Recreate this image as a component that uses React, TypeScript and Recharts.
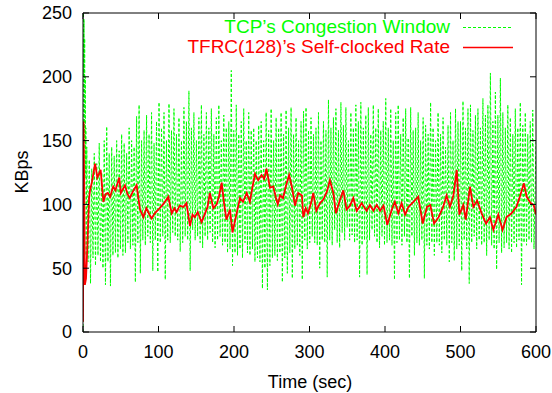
import { LineChart, Line, XAxis, YAxis, Label } from "recharts"

const FONT = "'Liberation Sans', Arial, Helvetica, sans-serif"
const GREEN = "#00ff00"
const RED = "#ff0000"

const xTicks = [0, 100, 200, 300, 400, 500, 600]
const yTicks = [0, 50, 100, 150, 200, 250]

// TCP slow start burst: [time, KBps]
const tcpStart = [
  [0, 0], [0.5, 250], [1, 200], [1.4, 245], [1.8, 150], [2.2, 230],
  [2.6, 120], [3, 200], [3.4, 125], [3.8, 160], [4.2, 60],
]

// sawtooth after start: one peak and one trough per 3.3 s, first peak at t=5
const tcpFirstPeak = 5
const tcpCycle = 3.3
const tcpPeaks = [
  145, 135, 128, 140, 132, 148, 125, 150, 161, 140,
  145, 138, 150, 142, 155, 148, 140, 160, 150, 145,
  169, 178, 150, 158, 170, 155, 172, 148, 165, 180,
  160, 172, 150, 179, 158, 175, 155, 168, 150, 176,
  165, 189, 160, 172, 150, 168, 178, 155, 172, 160,
  175, 155, 168, 178, 150, 170, 160, 165, 205, 158,
  178, 155, 165, 175, 150, 172, 158, 160, 150, 162,
  165, 150, 172, 158, 175, 150, 168, 160, 172, 155,
  174, 160, 176, 155, 168, 150, 165, 173, 176, 158,
  168, 155, 160, 172, 150, 165, 158, 182, 160, 168,
  175, 158, 180, 162, 176, 150, 172, 160, 178, 165,
  180, 160, 170, 176, 155, 178, 160, 175, 158, 165,
  183, 160, 175, 150, 172, 178, 155, 168, 175, 152,
  176, 158, 160, 172, 150, 168, 162, 155, 180, 160,
  150, 172, 155, 168, 145, 162, 172, 150, 175, 165,
  165, 181, 160, 175, 178, 158, 170, 175, 160, 183,
  170, 178, 203, 165, 188, 170, 199, 172, 160, 178,
  168, 155, 175, 160, 180, 162, 172, 155, 165, 174,
]
const tcpTroughs = [
  55, 38, 58, 52, 60, 55, 50, 37, 55, 36,
  60, 62, 58, 65, 60, 62, 70, 65, 68, 39,
  70, 46, 72, 68, 75, 70, 48, 72, 47, 70,
  75, 41, 72, 70, 78, 75, 72, 63, 70, 75,
  72, 48, 80, 72, 75, 70, 66, 75, 72, 78,
  70, 66, 72, 75, 68, 70, 62, 65, 52, 62,
  60, 65, 58, 70, 62, 60, 65, 55, 58, 55,
  34, 50, 33, 52, 58, 60, 56, 62, 39, 58,
  46, 62, 42, 65, 68, 60, 41, 72, 65, 70,
  75, 70, 68, 50, 72, 70, 43, 72, 68, 80,
  70, 66, 78, 72, 82, 72, 76, 70, 72, 43,
  68, 72, 45, 72, 80, 75, 70, 66, 75, 68,
  70, 72, 68, 41, 70, 72, 68, 75, 70, 42,
  75, 60, 70, 68, 72, 42, 68, 65, 70, 60,
  70, 68, 62, 72, 68, 55, 70, 56, 65, 68,
  48, 72, 65, 38, 70, 75, 65, 72, 68, 70,
  60, 72, 68, 65, 49, 70, 62, 66, 70, 65,
  62, 70, 66, 72, 37, 70, 68, 72, 70, 65,
]
const tcpEnd = [600, 150]

// TFRC self-clocked rate: [time, KBps]
const tfrc = [
  [0, 8], [0.7, 165], [1.5, 120], [2.5, 37], [4, 42], [6, 70], [8, 105], [9.3, 111],
  [12, 118], [16, 132], [19, 121], [23.4, 127], [27, 102], [30, 108], [33, 109], [36, 106],
  [40, 114], [43, 111], [48, 121], [50, 109], [55.6, 115], [59, 108], [62, 105], [66, 110],
  [71, 115], [75.5, 96], [80, 90], [84, 97], [88, 92], [91, 89], [95, 93], [100, 96],
  [106, 100], [113, 106], [117.5, 93], [121, 97], [124, 94], [128, 99], [133, 98], [137, 101],
  [141.7, 83], [145, 92], [148, 90], [152, 94], [157, 86], [161, 92], [165, 98], [168, 109],
  [172.6, 97], [177, 100], [180, 106], [183.7, 117], [187, 100], [190, 88], [194.7, 96], [198, 78],
  [203.5, 93], [208, 105], [212, 102], [216.8, 109], [221, 102], [224, 112], [227.8, 124], [232, 119],
  [236.6, 123], [240, 120], [243, 128], [247.7, 113], [252, 114], [255.6, 105], [258, 100], [261, 107],
  [265, 105], [269, 115], [273, 123], [276.6, 114], [280.8, 99], [285, 109], [290, 107], [291.7, 90],
  [295, 97], [298, 93], [302, 101], [305, 109], [309, 95], [314, 101], [318.6, 104], [323, 110],
  [327, 119], [331.6, 109], [335, 93], [340.6, 104], [344.8, 111], [349, 96], [353.6, 99], [358, 105],
  [362.5, 95], [366, 98], [369, 101], [375.6, 95], [380, 99.5], [384.6, 95], [389, 99.5], [393.6, 95],
  [398, 99], [403, 84], [409, 96], [413, 102], [417.6, 93], [422, 101], [426.7, 92], [431, 98],
  [437.6, 102], [444, 106], [450, 85], [455.6, 98], [460, 99.5], [465, 85], [471, 90], [477, 98],
  [481.6, 107], [486, 98], [490.6, 107], [495, 127], [498.5, 92], [503.7, 99.5], [507, 88], [512.6, 114],
  [517, 98], [522, 103], [528, 93], [533.8, 85], [539, 90], [543.5, 80], [550, 92], [555.7, 80],
  [561, 90], [567.6, 93], [574, 98], [578.6, 106], [584, 116.5], [587.6, 106], [593, 101], [597, 99.5],
  [600, 92],
]

const tcpData: { t: number; v: number }[] = tcpStart.map(([t, v]) => ({ t, v }))
tcpPeaks.forEach((p, i) => {
  const t0 = tcpFirstPeak + i * tcpCycle
  tcpData.push({ t: t0, v: p })
  tcpData.push({ t: t0 + tcpCycle / 2, v: tcpTroughs[i] })
})
tcpData.push({ t: tcpEnd[0], v: tcpEnd[1] })

const tfrcData = tfrc.map(([t, v]) => ({ t, v }))

const tickStyle = { fill: "#000", fontSize: 18, fontFamily: FONT }
const noLabel = () => <g />

export default function App() {
  return (
    <div style={{ position: "absolute", left: 0, top: 0, width: 552, height: 393, background: "#fff" }}>
      <LineChart width={552} height={393} margin={{ top: 0, right: 0, left: 0, bottom: 0 }}>
        <XAxis
          xAxisId="b"
          dataKey="t"
          type="number"
          domain={[0, 600]}
          ticks={xTicks}
          allowDataOverflow
          height={61}
          tickSize={-6}
          tickMargin={19}
          tick={tickStyle}
          stroke="#000"
        >
          <Label
            content={() => (
              <text x={310} y={388} textAnchor="middle" fontSize={18} fontFamily={FONT} fill="#000">
                Time (sec)
              </text>
            )}
          />
        </XAxis>
        <XAxis
          xAxisId="t"
          orientation="top"
          dataKey="t"
          type="number"
          domain={[0, 600]}
          ticks={xTicks}
          allowDataOverflow
          height={13}
          tickSize={-6}
          tick={noLabel}
          stroke="#000"
        />
        <YAxis
          yAxisId="l"
          type="number"
          domain={[0, 250]}
          ticks={yTicks}
          allowDataOverflow
          width={83}
          tickSize={-6}
          tickMargin={17}
          tick={tickStyle}
          stroke="#000"
        >
          <Label
            content={() => (
              <text
                x={0}
                y={0}
                transform="translate(28 172) rotate(-90)"
                textAnchor="middle"
                fontSize={18}
                fontFamily={FONT}
                fill="#000"
              >
                KBps
              </text>
            )}
          />
        </YAxis>
        <YAxis
          yAxisId="r"
          orientation="right"
          type="number"
          domain={[0, 250]}
          ticks={yTicks}
          allowDataOverflow
          width={16}
          tickSize={-6}
          tick={noLabel}
          stroke="#000"
        />
        <Line
          xAxisId="b"
          yAxisId="l"
          data={tcpData}
          dataKey="v"
          type="linear"
          stroke={GREEN}
          strokeWidth={1}
          strokeDasharray="3 2"
          dot={false}
          activeDot={false}
          isAnimationActive={false}
        />
        <Line
          xAxisId="b"
          yAxisId="l"
          data={tfrcData}
          dataKey="v"
          type="linear"
          stroke={RED}
          strokeWidth={1.8}
          dot={false}
          activeDot={false}
          isAnimationActive={false}
        />
      </LineChart>
      <div
        style={{
          position: "absolute",
          top: 17,
          right: 102,
          textAlign: "right",
          fontFamily: FONT,
          fontSize: 19,
          lineHeight: "20px",
          whiteSpace: "nowrap",
        }}
      >
        <div style={{ color: GREEN }}>TCP’s Congestion Window</div>
        <div style={{ color: RED }}>TFRC(128)’s Self-clocked Rate</div>
      </div>
      <svg style={{ position: "absolute", left: 0, top: 0 }} width={552} height={60}>
        <line x1={463} x2={513} y1={27.5} y2={27.5} stroke={GREEN} strokeWidth={1} strokeDasharray="3 2" />
        <line x1={463} x2={513} y1={47.5} y2={47.5} stroke={RED} strokeWidth={1.5} />
      </svg>
    </div>
  )
}
